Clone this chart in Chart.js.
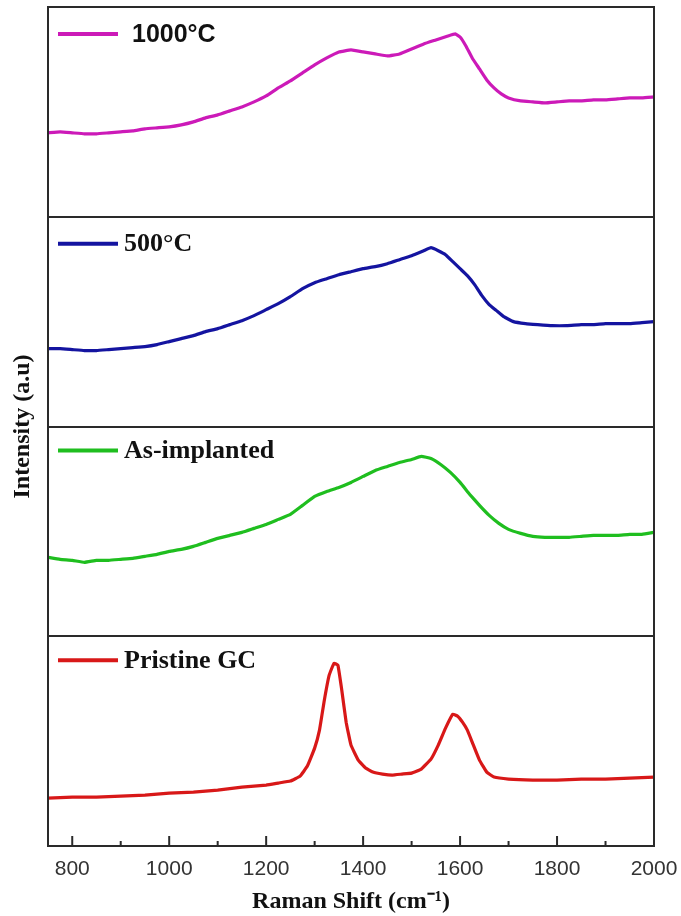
<!DOCTYPE html>
<html>
<head>
<meta charset="utf-8">
<script src="https://cdn.jsdelivr.net/npm/chart.js@4"></script>
<style>
html,body{margin:0;padding:0;background:#fff;}
#wrap{width:681px;height:916px;position:relative;}
</style>
</head>
<body>
<div id="wrap"><canvas id="c" width="681" height="916"></canvas></div>
<script>
// Raman shift ticks
const tickLabels = [800, 1000, 1200, 1400, 1600, 1800, 2000];
const minorTicks = [900, 1100, 1300, 1500, 1700, 1900];
const seriesNames = ['1000°C', '500°C', 'As-implanted', 'Pristine GC'];

// 1000°C (top panel) – intensity in panel units (0..210)
const x1000 = [750,775,800,825,850,875,900,925,950,975,1000,1025,1050,1075,1100,1125,1150,1175,1200,1225,1250,1275,1300,1325,1350,1375,1400,1425,1450,1475,1500,1525,1550,1575,1590,1600,1612,1625,1640,1655,1670,1685,1700,1725,1750,1775,1800,1825,1850,1875,1900,1925,1950,1975,2000];
const y1000 = [84,85,84,83,83,84,85,86,88,89,90,92,95,99,102,106,110,115,121,129,136,144,152,159,165,167,165,163,161,163,168,173,177,181,183,180,171,159,148,137,129,123,119,116,115,114,115,116,116,117,117,118,119,119,120];

// 500°C
const x500 = [750,775,800,825,850,875,900,925,950,975,1000,1025,1050,1075,1100,1125,1150,1175,1200,1225,1250,1275,1300,1325,1350,1375,1400,1425,1450,1475,1500,1525,1540,1555,1570,1585,1600,1615,1630,1645,1660,1675,1690,1710,1735,1760,1790,1820,1850,1875,1900,1925,1950,1975,2000];
const y500 = [78,78,77,76,76,77,78,79,80,82,85,88,91,95,98,102,106,111,117,123,130,138,144,148,152,155,158,160,163,167,171,176,179,176,172,165,158,151,142,131,122,116,110,105,103,102,101,101,102,102,103,103,103,104,105];

// As-implanted
const xAs = [750,775,800,825,850,875,900,925,950,975,1000,1025,1050,1075,1100,1125,1150,1175,1200,1225,1250,1275,1300,1325,1350,1375,1400,1425,1450,1475,1500,1520,1540,1560,1580,1600,1620,1640,1660,1680,1700,1725,1750,1775,1800,1825,1850,1875,1900,1925,1950,1975,2000];
const yAs = [79,77,76,74,76,76,77,78,80,82,85,87,90,94,98,101,104,108,112,117,122,131,140,145,149,154,160,166,170,174,177,180,178,172,164,154,142,131,121,113,107,103,100,99,99,99,100,101,101,101,102,102,104];

// Pristine GC
const xPr = [750,800,850,900,950,1000,1050,1100,1150,1200,1225,1250,1270,1285,1300,1310,1320,1330,1340,1348,1356,1365,1375,1390,1405,1420,1440,1460,1480,1500,1520,1540,1555,1570,1585,1595,1605,1615,1625,1640,1655,1670,1700,1750,1800,1850,1900,1950,2000];
const yPr = [48,49,49,50,51,53,54,56,59,61,63,65,70,80,98,116,146,171,183,181,156,124,101,86,78,74,72,71,72,73,77,87,101,118,132,130,124,116,104,86,74,69,67,66,66,67,67,68,69];

const colors = ['#cc1ab8', '#1414a0', '#1fbe1f', '#d81818'];
const PANEL = 210;
const xs = [x1000, x500, xAs, xPr];
const ys = [y1000, y500, yAs, yPr];
const offsets = [3*PANEL, 2*PANEL, 1*PANEL, 0];

const datasets = xs.map((xa, i) => ({
  label: seriesNames[i],
  data: xa.map((x, j) => ({x: x, y: ys[i][j] + offsets[i]})),
  borderColor: colors[i],
  borderWidth: 3.2,
  pointRadius: 0,
  tension: 0.1,
  fill: false
}));

const legendPos = [
  {y: 3*PANEL + 183, font: 'bold 25px "Liberation Sans", Arial, sans-serif'},
  {y: 2*PANEL + 183, font: 'bold 26px "Liberation Serif", "Times New Roman", serif'},
  {y: 1*PANEL + 186, font: 'bold 26px "Liberation Serif", "Times New Roman", serif'},
  {y: 0*PANEL + 186, font: 'bold 26px "Liberation Serif", "Times New Roman", serif'}
];

const framePlugin = {
  id: 'frame',
  afterDatasetsDraw(chart) {
    const {ctx, chartArea: a, scales} = chart;
    const xs_ = scales.x, ys_ = scales.y;
    ctx.save();
    ctx.strokeStyle = '#2a2a2a';
    ctx.lineWidth = 2;
    ctx.strokeRect(a.left, a.top, a.right - a.left, a.bottom - a.top);
    [PANEL, 2*PANEL, 3*PANEL].forEach(v => {
      const py = Math.round(ys_.getPixelForValue(v));
      ctx.beginPath(); ctx.moveTo(a.left, py); ctx.lineTo(a.right, py); ctx.stroke();
    });
    // inward ticks on bottom axis
    tickLabels.forEach(v => {
      const px = xs_.getPixelForValue(v);
      ctx.beginPath(); ctx.moveTo(px, a.bottom); ctx.lineTo(px, a.bottom - 10); ctx.stroke();
    });
    minorTicks.forEach(v => {
      const px = xs_.getPixelForValue(v);
      ctx.beginPath(); ctx.moveTo(px, a.bottom); ctx.lineTo(px, a.bottom - 5); ctx.stroke();
    });
    // legends
    legendPos.forEach((lp, i) => {
      const py = ys_.getPixelForValue(lp.y);
      ctx.strokeStyle = colors[i];
      ctx.lineWidth = 4;
      ctx.beginPath(); ctx.moveTo(a.left + 10, py); ctx.lineTo(a.left + 70, py); ctx.stroke();
      ctx.fillStyle = '#111';
      ctx.font = lp.font;
      ctx.textBaseline = 'middle';
      ctx.textAlign = 'left';
      ctx.fillText(seriesNames[i], a.left + (i === 0 ? 84 : 76), py + 1);
    });
    ctx.restore();
  }
};

new Chart(document.getElementById('c'), {
  type: 'line',
  data: {datasets},
  options: {
    responsive: false,
    animation: false,
    layout: {padding: {left: 0, right: 27, top: 7, bottom: 0}},
    plugins: {legend: {display: false}, tooltip: {enabled: false}},
    scales: {
      x: {
        type: 'linear', min: 750, max: 2000,
        afterBuildTicks: s => { s.ticks = tickLabels.map(v => ({value: v})); },
        afterFit: s => { s.height = 70; s.paddingRight = 0; s.paddingLeft = 0; },
        grid: {display: false, drawTicks: false},
        border: {display: false},
        ticks: {padding: 11, color: '#333', font: {family: '"Liberation Sans", Arial, sans-serif', size: 21}, maxRotation: 0,
          callback: v => String(v)},
        title: {display: true, text: 'Raman Shift (cm⁻¹)', color: '#111', padding: {top: 0, bottom: 0},
          font: {family: '"Liberation Serif", "Times New Roman", serif', size: 24, weight: 'bold'}}
      },
      y: {
        type: 'linear', min: 0, max: 4*PANEL,
        afterFit: s => { s.width = 48; },
        grid: {display: false},
        border: {display: false},
        ticks: {display: false},
        title: {display: true, text: 'Intensity (a.u)', color: '#111', padding: {top: 8, bottom: 0},
          font: {family: '"Liberation Serif", "Times New Roman", serif', size: 24, weight: 'bold'}}
      }
    }
  },
  plugins: [framePlugin]
});
</script>
</body>
</html>
